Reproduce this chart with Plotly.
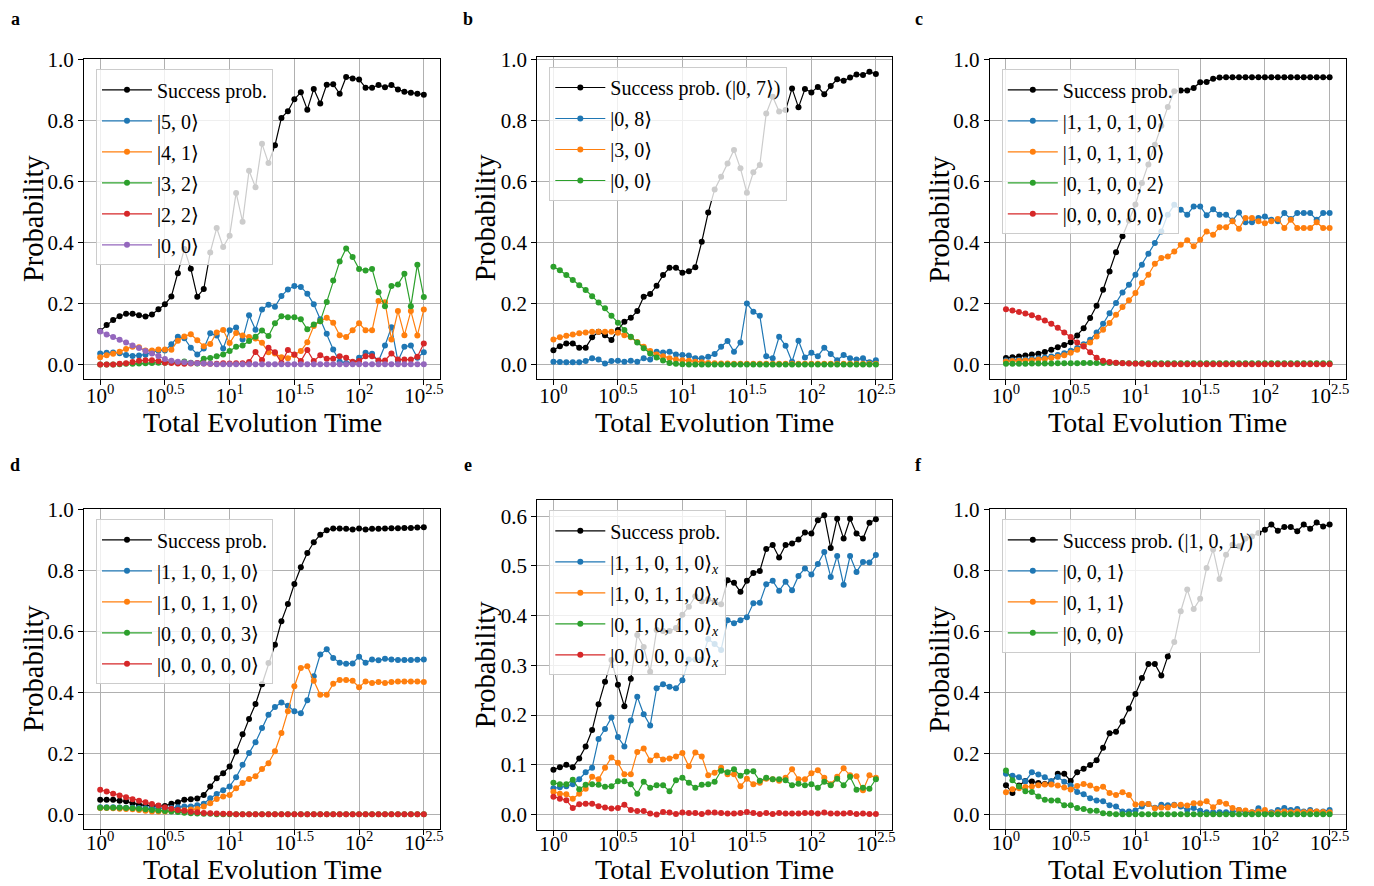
import plotly.graph_objects as go

# ---------------- data ----------------
TIME_EXPONENTS = [0.00, 0.05, 0.10, 0.15, 0.20, 0.25, 0.30, 0.35, 0.40, 0.45,
                  0.50, 0.55, 0.60, 0.65, 0.70, 0.75, 0.80, 0.85, 0.90, 0.95,
                  1.00, 1.05, 1.10, 1.15, 1.20, 1.25, 1.30, 1.35, 1.40, 1.45,
                  1.50, 1.55, 1.60, 1.65, 1.70, 1.75, 1.80, 1.85, 1.90, 1.95,
                  2.00, 2.05, 2.10, 2.15, 2.20, 2.25, 2.30, 2.35, 2.40, 2.45, 2.50]
TIMES = [10 ** e for e in TIME_EXPONENTS]

TICK_VALS = [10 ** 0, 10 ** 0.5, 10 ** 1, 10 ** 1.5, 10 ** 2, 10 ** 2.5]
TICK_TEXT = ["10<sup>0</sup>", "10<sup>0.5</sup>", "10<sup>1</sup>",
             "10<sup>1.5</sup>", "10<sup>2</sup>", "10<sup>2.5</sup>"]

# panel a
a_success = [0.110, 0.129, 0.146, 0.158, 0.166, 0.166, 0.161, 0.157, 0.164, 0.181,
             0.197, 0.223, 0.299, 0.378, 0.314, 0.222, 0.247, 0.367, 0.447, 0.385,
             0.422, 0.562, 0.468, 0.635, 0.581, 0.723, 0.660, 0.718, 0.808, 0.830,
             0.869, 0.892, 0.835, 0.903, 0.855, 0.917, 0.918, 0.887, 0.942, 0.937,
             0.934, 0.907, 0.907, 0.916, 0.908, 0.916, 0.901, 0.894, 0.890, 0.887, 0.884]
a_50 = [0.036, 0.038, 0.039, 0.037, 0.031, 0.028, 0.029, 0.032, 0.040, 0.045,
        0.046, 0.066, 0.091, 0.086, 0.055, 0.033, 0.052, 0.102, 0.095, 0.052,
        0.112, 0.121, 0.082, 0.161, 0.114, 0.180, 0.196, 0.189, 0.224, 0.246,
        0.257, 0.254, 0.232, 0.197, 0.148, 0.101, 0.049, 0.009, 0.005, 0.005,
        0.022, 0.038, 0.035, 0.011, 0.062, 0.122, 0.011, 0.058, 0.062, 0.022, 0.040]
a_41 = [0.024, 0.030, 0.035, 0.042, 0.051, 0.058, 0.056, 0.046, 0.046, 0.049,
        0.049, 0.048, 0.078, 0.092, 0.099, 0.079, 0.060, 0.067, 0.105, 0.113,
        0.070, 0.103, 0.095, 0.090, 0.085, 0.071, 0.040, 0.036, 0.024, 0.020,
        0.031, 0.044, 0.073, 0.126, 0.142, 0.153, 0.137, 0.096, 0.090, 0.112,
        0.135, 0.112, 0.112, 0.208, 0.204, 0.082, 0.175, 0.096, 0.175, 0.095, 0.180]
a_32 = [0.000, 0.000, 0.000, 0.001, 0.002, 0.002, 0.003, 0.004, 0.005, 0.006,
        0.006, 0.008, 0.006, 0.010, 0.006, 0.003, 0.019, 0.021, 0.027, 0.033,
        0.044, 0.058, 0.062, 0.077, 0.091, 0.111, 0.093, 0.135, 0.158, 0.155,
        0.155, 0.148, 0.115, 0.131, 0.142, 0.205, 0.275, 0.337, 0.380, 0.352,
        0.313, 0.308, 0.313, 0.237, 0.191, 0.257, 0.262, 0.297, 0.191, 0.327, 0.221]
a_22 = [0.000, 0.000, 0.000, 0.002, 0.004, 0.008, 0.012, 0.014, 0.014, 0.011,
        0.006, 0.005, 0.003, 0.002, 0.003, 0.005, 0.003, 0.002, 0.002, 0.004,
        0.003, 0.004, 0.004, 0.008, 0.041, 0.015, 0.055, 0.040, 0.005, 0.047,
        0.033, 0.011, 0.047, 0.011, 0.030, 0.019, 0.019, 0.027, 0.022, 0.009,
        0.011, 0.027, 0.027, 0.013, 0.013, 0.036, 0.016, 0.016, 0.016, 0.025, 0.069]
a_00 = [0.108, 0.098, 0.090, 0.081, 0.072, 0.062, 0.054, 0.044, 0.036, 0.028,
        0.018, 0.012, 0.009, 0.007, 0.005, 0.004, 0.003, 0.002, 0.001, 0.001,
        0.001, 0.001, 0.001, 0.001, 0.001, 0.001, 0.001, 0.001, 0.001, 0.001,
        0.001, 0.001, 0.001, 0.001, 0.001, 0.001, 0.001, 0.001, 0.001, 0.001,
        0.001, 0.001, 0.001, 0.001, 0.001, 0.001, 0.001, 0.001, 0.001, 0.001, 0.001]

# panel b
b_success = [0.048, 0.061, 0.070, 0.070, 0.056, 0.056, 0.090, 0.108, 0.097, 0.081,
             0.114, 0.141, 0.154, 0.176, 0.223, 0.232, 0.259, 0.294, 0.318, 0.318,
             0.302, 0.307, 0.320, 0.403, 0.499, 0.575, 0.616, 0.660, 0.704, 0.644,
             0.564, 0.631, 0.655, 0.824, 0.879, 0.830, 0.835, 0.906, 0.844, 0.904,
             0.893, 0.911, 0.887, 0.914, 0.936, 0.931, 0.942, 0.952, 0.950, 0.961, 0.953]
b_08 = [0.010, 0.009, 0.008, 0.008, 0.008, 0.012, 0.021, 0.017, 0.004, 0.012,
        0.013, 0.010, 0.013, 0.010, 0.021, 0.017, 0.043, 0.040, 0.043, 0.034,
        0.032, 0.030, 0.021, 0.021, 0.026, 0.035, 0.059, 0.078, 0.043, 0.073,
        0.201, 0.174, 0.161, 0.028, 0.021, 0.092, 0.062, 0.010, 0.079, 0.024,
        0.039, 0.028, 0.056, 0.035, 0.015, 0.032, 0.021, 0.017, 0.021, 0.008, 0.015]
b_30 = [0.083, 0.090, 0.095, 0.099, 0.103, 0.106, 0.108, 0.108, 0.108, 0.108,
        0.105, 0.097, 0.090, 0.075, 0.059, 0.045, 0.034, 0.028, 0.021, 0.017,
        0.015, 0.013, 0.010, 0.008, 0.006, 0.005, 0.004, 0.004, 0.003, 0.003,
        0.003, 0.003, 0.003, 0.003, 0.003, 0.003, 0.003, 0.003, 0.003, 0.003,
        0.003, 0.003, 0.003, 0.003, 0.003, 0.003, 0.003, 0.003, 0.003, 0.003, 0.003]
b_00 = [0.321, 0.310, 0.294, 0.278, 0.261, 0.245, 0.225, 0.204, 0.185, 0.161,
        0.138, 0.114, 0.092, 0.073, 0.054, 0.037, 0.024, 0.014, 0.006, 0.003,
        0.002, 0.001, 0.001, 0.001, 0.001, 0.001, 0.001, 0.001, 0.001, 0.001,
        0.001, 0.001, 0.001, 0.001, 0.001, 0.001, 0.001, 0.001, 0.001, 0.001,
        0.001, 0.001, 0.001, 0.001, 0.001, 0.001, 0.001, 0.001, 0.001, 0.001, 0.001]

# panel c
c_success = [0.021, 0.024, 0.026, 0.029, 0.033, 0.035, 0.041, 0.048, 0.056, 0.064,
             0.073, 0.095, 0.119, 0.152, 0.192, 0.245, 0.305, 0.368, 0.420, 0.472,
             0.524, 0.595, 0.655, 0.720, 0.782, 0.844, 0.895, 0.898, 0.898, 0.906,
             0.925, 0.926, 0.936, 0.940, 0.941, 0.941, 0.941, 0.941, 0.941, 0.941,
             0.941, 0.941, 0.941, 0.941, 0.941, 0.941, 0.941, 0.941, 0.941, 0.941, 0.941]
c_11010 = [0.013, 0.014, 0.015, 0.016, 0.018, 0.020, 0.023, 0.026, 0.031, 0.037,
           0.045, 0.054, 0.066, 0.081, 0.105, 0.133, 0.168, 0.201, 0.236, 0.261,
           0.294, 0.327, 0.363, 0.398, 0.436, 0.491, 0.523, 0.507, 0.491, 0.518,
           0.518, 0.489, 0.509, 0.491, 0.491, 0.472, 0.498, 0.466, 0.466, 0.480,
           0.485, 0.474, 0.469, 0.496, 0.477, 0.496, 0.496, 0.496, 0.474, 0.496, 0.496]
c_10110 = [0.010, 0.011, 0.012, 0.013, 0.014, 0.016, 0.018, 0.021, 0.025, 0.030,
           0.038, 0.048, 0.061, 0.072, 0.092, 0.114, 0.136, 0.163, 0.188, 0.210,
           0.234, 0.267, 0.294, 0.330, 0.349, 0.354, 0.370, 0.392, 0.407, 0.387,
           0.409, 0.436, 0.425, 0.450, 0.450, 0.469, 0.445, 0.480, 0.480, 0.469,
           0.463, 0.469, 0.477, 0.447, 0.474, 0.447, 0.447, 0.447, 0.466, 0.447, 0.447]
c_01002 = [0.002, 0.002, 0.002, 0.002, 0.003, 0.003, 0.003, 0.003, 0.004, 0.004,
           0.004, 0.004, 0.005, 0.005, 0.005, 0.005, 0.005, 0.005, 0.005, 0.004,
           0.004, 0.004, 0.004, 0.004, 0.004, 0.004, 0.004, 0.004, 0.004, 0.004,
           0.004, 0.004, 0.004, 0.004, 0.004, 0.004, 0.004, 0.004, 0.004, 0.004,
           0.004, 0.004, 0.004, 0.004, 0.004, 0.004, 0.004, 0.004, 0.004, 0.004, 0.004]
c_00000 = [0.181, 0.177, 0.172, 0.167, 0.161, 0.153, 0.144, 0.133, 0.120, 0.105,
           0.090, 0.072, 0.059, 0.040, 0.022, 0.012, 0.008, 0.006, 0.004, 0.003,
           0.002, 0.002, 0.001, 0.001, 0.001, 0.001, 0.001, 0.001, 0.001, 0.001,
           0.001, 0.001, 0.001, 0.001, 0.001, 0.001, 0.001, 0.001, 0.001, 0.001,
           0.001, 0.001, 0.001, 0.001, 0.001, 0.001, 0.001, 0.001, 0.001, 0.001, 0.001]

# panel d
d_success = [0.048, 0.048, 0.048, 0.045, 0.043, 0.037, 0.032, 0.030, 0.028, 0.028,
             0.028, 0.035, 0.040, 0.048, 0.050, 0.052, 0.064, 0.092, 0.119, 0.135,
             0.157, 0.206, 0.263, 0.313, 0.362, 0.427, 0.496, 0.556, 0.633, 0.690,
             0.755, 0.810, 0.857, 0.892, 0.917, 0.931, 0.937, 0.937, 0.936, 0.934,
             0.937, 0.934, 0.936, 0.936, 0.937, 0.938, 0.938, 0.939, 0.939, 0.940, 0.941]
d_11010 = [0.024, 0.024, 0.024, 0.023, 0.022, 0.022, 0.021, 0.020, 0.020, 0.020,
           0.021, 0.021, 0.024, 0.026, 0.026, 0.030, 0.035, 0.053, 0.067, 0.079,
           0.092, 0.122, 0.163, 0.201, 0.237, 0.283, 0.327, 0.352, 0.367, 0.356,
           0.338, 0.332, 0.374, 0.453, 0.524, 0.541, 0.513, 0.497, 0.494, 0.495,
           0.517, 0.497, 0.508, 0.505, 0.510, 0.508, 0.506, 0.506, 0.506, 0.507, 0.508]
d_10110 = [0.021, 0.021, 0.020, 0.019, 0.018, 0.017, 0.015, 0.012, 0.010, 0.010,
           0.010, 0.011, 0.012, 0.014, 0.016, 0.018, 0.026, 0.037, 0.051, 0.059,
           0.064, 0.086, 0.103, 0.116, 0.125, 0.149, 0.168, 0.207, 0.267, 0.338,
           0.420, 0.480, 0.486, 0.438, 0.392, 0.392, 0.428, 0.441, 0.441, 0.438,
           0.417, 0.436, 0.431, 0.434, 0.431, 0.434, 0.436, 0.436, 0.436, 0.436, 0.434]
d_00003 = [0.022, 0.022, 0.022, 0.022, 0.021, 0.020, 0.019, 0.017, 0.015, 0.013,
           0.011, 0.010, 0.008, 0.006, 0.004, 0.003, 0.002, 0.002, 0.001, 0.001,
           0.001, 0.001, 0.001, 0.001, 0.001, 0.001, 0.001, 0.001, 0.001, 0.001,
           0.001, 0.001, 0.001, 0.001, 0.001, 0.001, 0.001, 0.001, 0.001, 0.001,
           0.001, 0.001, 0.001, 0.001, 0.001, 0.001, 0.001, 0.001, 0.001, 0.001, 0.001]
d_00000 = [0.081, 0.075, 0.068, 0.062, 0.056, 0.050, 0.045, 0.040, 0.034, 0.029,
           0.024, 0.019, 0.015, 0.012, 0.009, 0.007, 0.005, 0.004, 0.003, 0.002,
           0.002, 0.001, 0.001, 0.001, 0.001, 0.001, 0.001, 0.001, 0.001, 0.001,
           0.001, 0.001, 0.001, 0.001, 0.001, 0.001, 0.001, 0.001, 0.001, 0.001,
           0.001, 0.001, 0.001, 0.001, 0.001, 0.001, 0.001, 0.001, 0.001, 0.001, 0.001]

# panel e
e_success = [0.090, 0.095, 0.100, 0.095, 0.113, 0.137, 0.170, 0.222, 0.267, 0.311,
             0.261, 0.218, 0.273, 0.361, 0.337, 0.287, 0.371, 0.369, 0.369, 0.375,
             0.402, 0.418, 0.439, 0.429, 0.433, 0.428, 0.423, 0.471, 0.466, 0.448,
             0.470, 0.486, 0.490, 0.534, 0.542, 0.517, 0.542, 0.545, 0.553, 0.567,
             0.565, 0.592, 0.602, 0.536, 0.595, 0.555, 0.595, 0.565, 0.555, 0.587, 0.594]
e_11010 = [0.053, 0.055, 0.057, 0.061, 0.071, 0.085, 0.094, 0.152, 0.172, 0.195,
           0.156, 0.137, 0.189, 0.237, 0.202, 0.179, 0.254, 0.262, 0.257, 0.254,
           0.270, 0.312, 0.312, 0.312, 0.353, 0.343, 0.331, 0.391, 0.385, 0.391,
           0.397, 0.425, 0.426, 0.463, 0.470, 0.450, 0.468, 0.451, 0.480, 0.495,
           0.483, 0.504, 0.528, 0.478, 0.520, 0.462, 0.520, 0.488, 0.508, 0.507, 0.522]
e_10110 = [0.046, 0.042, 0.041, 0.032, 0.042, 0.052, 0.076, 0.071, 0.094, 0.115,
           0.104, 0.081, 0.081, 0.126, 0.133, 0.109, 0.119, 0.111, 0.113, 0.117,
           0.124, 0.097, 0.125, 0.117, 0.079, 0.084, 0.094, 0.081, 0.081, 0.057,
           0.072, 0.061, 0.064, 0.072, 0.071, 0.068, 0.074, 0.091, 0.071, 0.071,
           0.083, 0.089, 0.074, 0.061, 0.076, 0.093, 0.079, 0.077, 0.049, 0.079, 0.074]
e_01010 = [0.064, 0.061, 0.061, 0.070, 0.051, 0.060, 0.061, 0.060, 0.056, 0.057,
           0.067, 0.067, 0.061, 0.042, 0.066, 0.054, 0.059, 0.059, 0.047, 0.069,
           0.074, 0.064, 0.054, 0.060, 0.061, 0.066, 0.088, 0.085, 0.091, 0.078,
           0.086, 0.087, 0.068, 0.074, 0.071, 0.071, 0.069, 0.059, 0.062, 0.059,
           0.061, 0.054, 0.066, 0.059, 0.072, 0.059, 0.076, 0.050, 0.054, 0.052, 0.071]
e_00000 = [0.036, 0.032, 0.029, 0.013, 0.021, 0.022, 0.022, 0.017, 0.014, 0.012,
           0.013, 0.020, 0.009, 0.007, 0.007, 0.002, 0.000, 0.005, 0.004, 0.001,
           0.004, 0.003, 0.003, 0.001, 0.004, 0.004, 0.003, 0.002, 0.002, 0.003,
           0.005, 0.003, 0.001, 0.003, 0.001, 0.003, 0.002, 0.002, 0.002, 0.003,
           0.003, 0.002, 0.004, 0.002, 0.002, 0.002, 0.003, 0.001, 0.002, 0.001, 0.001]

# panel f
f_success = [0.096, 0.070, 0.095, 0.110, 0.108, 0.103, 0.100, 0.105, 0.133, 0.133,
             0.110, 0.138, 0.150, 0.162, 0.178, 0.219, 0.266, 0.271, 0.305, 0.347,
             0.395, 0.447, 0.493, 0.493, 0.455, 0.518, 0.565, 0.666, 0.737, 0.673,
             0.707, 0.808, 0.868, 0.772, 0.851, 0.884, 0.879, 0.904, 0.911, 0.922,
             0.933, 0.950, 0.930, 0.942, 0.942, 0.928, 0.950, 0.936, 0.957, 0.944, 0.950]
f_001 = [0.133, 0.127, 0.122, 0.109, 0.138, 0.131, 0.122, 0.110, 0.123, 0.107,
         0.095, 0.074, 0.066, 0.053, 0.046, 0.043, 0.030, 0.026, 0.010, 0.010,
         0.013, 0.026, 0.034, 0.022, 0.032, 0.030, 0.032, 0.026, 0.015, 0.021,
         0.012, 0.007, 0.007, 0.007, 0.007, 0.007, 0.015, 0.007, 0.007, 0.020,
         0.007, 0.007, 0.015, 0.021, 0.015, 0.018, 0.010, 0.015, 0.010, 0.010, 0.015]
f_011 = [0.073, 0.083, 0.086, 0.090, 0.092, 0.096, 0.098, 0.098, 0.095, 0.088,
         0.082, 0.093, 0.100, 0.095, 0.084, 0.091, 0.070, 0.064, 0.073, 0.064,
         0.033, 0.035, 0.034, 0.020, 0.023, 0.023, 0.030, 0.032, 0.029, 0.037,
         0.037, 0.043, 0.024, 0.041, 0.035, 0.021, 0.015, 0.013, 0.007, 0.010,
         0.015, 0.004, 0.007, 0.010, 0.007, 0.010, 0.007, 0.010, 0.010, 0.008, 0.007]
f_000 = [0.144, 0.112, 0.092, 0.076, 0.074, 0.059, 0.048, 0.046, 0.046, 0.030,
         0.030, 0.021, 0.018, 0.012, 0.012, 0.004, 0.002, 0.001, 0.001, 0.001,
         0.001, 0.001, 0.001, 0.001, 0.001, 0.001, 0.001, 0.001, 0.001, 0.001,
         0.001, 0.001, 0.001, 0.001, 0.001, 0.001, 0.001, 0.001, 0.001, 0.001,
         0.001, 0.001, 0.001, 0.001, 0.001, 0.001, 0.001, 0.001, 0.001, 0.001, 0.001]

BLACK, BLUE, ORANGE, GREEN, RED, PURPLE = "#000000", "#1f77b4", "#ff7f0e", "#2ca02c", "#d62728", "#9467bd"

PANELS = [
    ("a", [("Success prob.", a_success, BLACK), ("|5, 0⟩", a_50, BLUE), ("|4, 1⟩", a_41, ORANGE),
           ("|3, 2⟩", a_32, GREEN), ("|2, 2⟩", a_22, RED), ("|0, 0⟩", a_00, PURPLE)]),
    ("b", [("Success prob. (|0, 7⟩)", b_success, BLACK), ("|0, 8⟩", b_08, BLUE),
           ("|3, 0⟩", b_30, ORANGE), ("|0, 0⟩", b_00, GREEN)]),
    ("c", [("Success prob.", c_success, BLACK), ("|1, 1, 0, 1, 0⟩", c_11010, BLUE),
           ("|1, 0, 1, 1, 0⟩", c_10110, ORANGE), ("|0, 1, 0, 0, 2⟩", c_01002, GREEN),
           ("|0, 0, 0, 0, 0⟩", c_00000, RED)]),
    ("d", [("Success prob.", d_success, BLACK), ("|1, 1, 0, 1, 0⟩", d_11010, BLUE),
           ("|1, 0, 1, 1, 0⟩", d_10110, ORANGE), ("|0, 0, 0, 0, 3⟩", d_00003, GREEN),
           ("|0, 0, 0, 0, 0⟩", d_00000, RED)]),
    ("e", [("Success prob.", e_success, BLACK), ("|1, 1, 0, 1, 0⟩<sub><i>x</i></sub>", e_11010, BLUE),
           ("|1, 0, 1, 1, 0⟩<sub><i>x</i></sub>", e_10110, ORANGE),
           ("|0, 1, 0, 1, 0⟩<sub><i>x</i></sub>", e_01010, GREEN),
           ("|0, 0, 0, 0, 0⟩<sub><i>x</i></sub>", e_00000, RED)]),
    ("f", [("Success prob. (|1, 0, 1⟩)", f_success, BLACK), ("|0, 0, 1⟩", f_001, BLUE),
           ("|0, 1, 1⟩", f_011, ORANGE), ("|0, 0, 0⟩", f_000, GREEN)]),
]

# ---------------- layout geometry (page pixels) ----------------
PAGE_OFF = 8                     # the page body margin in the browser
W, H = 1374 - PAGE_OFF, 886 - PAGE_OFF


def px(x):
    return (x - PAGE_OFF) / W


def py(y):
    return 1 - (y - PAGE_OFF) / H


COLS = [(84, 440), (537.3, 892), (989.8, 1345.8)]
BOX = {  # panel: (col, top, bottom, yrange, yticks)
    "a": (0, 59.3, 378.8, [-0.047, 1.0], [0, 0.2, 0.4, 0.6, 0.8, 1.0]),
    "b": (1, 57.0, 378.8, [-0.046, 1.009], [0, 0.2, 0.4, 0.6, 0.8, 1.0]),
    "c": (2, 59.3, 378.8, [-0.047, 1.0], [0, 0.2, 0.4, 0.6, 0.8, 1.0]),
    "d": (0, 509.3, 828.8, [-0.047, 1.0], [0, 0.2, 0.4, 0.6, 0.8, 1.0]),
    "e": (1, 500.3, 829.5, [-0.030, 0.632], [0, 0.1, 0.2, 0.3, 0.4, 0.5, 0.6]),
    "f": (2, 509.3, 828.8, [-0.047, 1.0], [0, 0.2, 0.4, 0.6, 0.8, 1.0]),
}
LETTER_TOP = {"a": 8.5, "b": 8.5, "c": 8.5, "d": 454, "e": 454, "f": 454}
LETTER_X = [15, 468, 919]

FONT = "Liberation Serif, DejaVu Serif, serif"

fig = go.Figure()
layout = dict(width=W, height=H, margin=dict(l=0, r=0, t=0, b=0, autoexpand=False),
              paper_bgcolor="white", plot_bgcolor="white", showlegend=True,
              font=dict(family=FONT, color="black"))
annotations = []

for k, (letter, series) in enumerate(PANELS):
    n = "" if k == 0 else str(k + 1)
    col, top, bot, yr, yt = BOX[letter]
    x0, x1 = COLS[col]
    bottom_row = bot > 450
    xa = dict(domain=[px(x0), px(x1)], type="log", range=[-0.125, 2.625],
              tickvals=TICK_VALS, ticktext=TICK_TEXT, anchor="y" + n, automargin=False,
              showgrid=True, gridcolor="#b0b0b0", gridwidth=1,
              showline=True, linecolor="black", linewidth=1, mirror=True,
              ticks="outside", ticklen=5, tickcolor="black",
              ticklabelstandoff=-10 if bottom_row else -7,
              tickfont=dict(family=FONT, size=21), zeroline=False)
    ya = dict(domain=[py(bot), py(top)], range=yr, tickvals=yt,
              ticktext=["%.1f" % v for v in yt], anchor="x" + n, automargin=False,
              showgrid=True, gridcolor="#b0b0b0", gridwidth=1,
              showline=True, linecolor="black", linewidth=1, mirror=True,
              ticks="outside", ticklen=5, tickcolor="black",
              tickfont=dict(family=FONT, size=21), zeroline=False)
    layout["xaxis" + n] = xa
    layout["yaxis" + n] = ya
    leg = "legend" + n
    layout[leg] = dict(x=px(x0 + 12), y=py(top + 10), xanchor="left", yanchor="top",
                       bgcolor="rgba(255,255,255,0.8)", bordercolor="#cccccc", borderwidth=1,
                       font=dict(family=FONT, size=20, color="black"),
                       tracegroupgap=2, traceorder="grouped", itemwidth=50)
    for j, (name, vals, color) in enumerate(series):
        fig.add_trace(go.Scatter(x=TIMES, y=vals, name=name, mode="lines+markers",
                                 line=dict(color=color, width=1.2),
                                 marker=dict(color=color, size=6),
                                 xaxis="x" + n, yaxis="y" + n, legend=leg,
                                 legendgroup=letter + str(j)))
    # axis titles and panel letter
    if not bottom_row:
        title_pos = dict(y=py(bot + 44), yanchor="middle")
    else:
        title_pos = dict(y=py(885.5), yanchor="bottom", borderpad=0)
    annotations.append(dict(text="Total Evolution Time", x=px((x0 + x1) / 2),
                            xref="paper", yref="paper", xanchor="center",
                            showarrow=False, font=dict(family=FONT, size=28), **title_pos))
    annotations.append(dict(text="Probability", x=px(x0 - 51), y=py((top + bot) / 2),
                            xref="paper", yref="paper", xanchor="center", yanchor="middle",
                            showarrow=False, textangle=-90,
                            font=dict(family=FONT, size=28.5)))
    annotations.append(dict(text="<b>%s</b>" % letter, x=px(LETTER_X[col]), y=py(LETTER_TOP[letter]),
                            xref="paper", yref="paper", xanchor="center", yanchor="top",
                            borderpad=0, showarrow=False, font=dict(family=FONT, size=18)))

layout["annotations"] = annotations
fig.update_layout(**layout)
fig.write_html("out.html")
